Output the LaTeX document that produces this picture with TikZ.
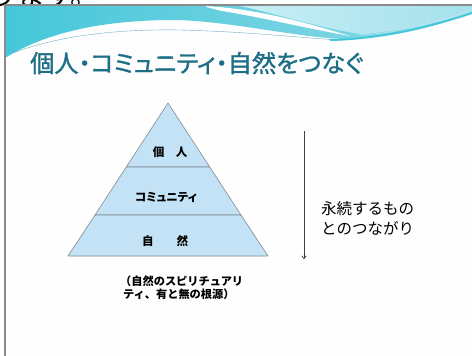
\documentclass[tikz,border=0pt]{standalone}
\usepackage{fontspec}
\newfontfamily\jp{Noto Sans CJK JP}
\newfontfamily\jpt[RawFeature=+palt,FakeBold=1.2]{Noto Sans CJK JP}
\newfontfamily\jpp[RawFeature=+palt]{Noto Sans CJK JP}
\usetikzlibrary{arrows.meta}
\definecolor{titleteal}{HTML}{1D6E86}
\definecolor{pyrfill}{HTML}{C4E2F6}
\definecolor{pyrline}{HTML}{7F8C95}
\definecolor{framegray}{HTML}{8A8A8A}
\definecolor{wavedark}{HTML}{45C7D9}
\definecolor{wavemid}{HTML}{8ED9E7}
\definecolor{wavelight}{HTML}{C8EEF5}
\definecolor{waveline}{HTML}{6AB0C2}
\tikzset{
  tier/.style={draw=pyrline, line width=0.6pt, fill=pyrfill, line join=round},
  tierlabel/.style={font=\jp\bfseries\fontsize{11.5}{12}\selectfont, inner sep=0pt},
  bodytext/.style={font=\jp\fontsize{15.5}{20}\selectfont, inner sep=0pt, align=left},
  captext/.style={font=\jp\bfseries\fontsize{11.2}{12.5}\selectfont, inner sep=0pt, align=left},
  arrowline/.style={draw=black!75, line width=0.7pt, -{To[length=3.5pt,width=5pt]}}
}
\begin{document}
\begin{tikzpicture}[x=1pt,y=-1pt]
\useasboundingbox (0,0) rectangle (472,356);
\fill[white] (0,0) rectangle (472,356);
% cut-off text at the very top
\node[font=\jp\fontsize{28}{28}\selectfont, anchor=base west, inner sep=0pt] (toptext) at (-11,5.5) {ります。};
% slide
\fill[white!99!gray] (5,5) rectangle (472,356);
% wave band
\shade[left color=wavedark, right color=wavemid]
  (5,6) -- (472,6) -- (472,13)
  .. controls (440,24) and (400,38) .. (345,39)
  .. controls (300,38) and (230,21) .. (175,20)
  .. controls (110,20) and (50,30) .. (5,58) -- cycle;
\shade[left color=wavelight, right color=wavemid!80!white]
  (240,6) -- (472,6) -- (472,13)
  .. controls (440,22) and (400,32) .. (360,34)
  .. controls (320,28) and (270,12) .. (240,6) -- cycle;
\fill[white]
  (205,6) .. controls (260,9) and (310,24) .. (350,36)
  .. controls (305,28) and (255,16) .. (222,11)
  .. controls (214,9) and (209,8) .. (205,6) -- cycle;
\draw[waveline, line width=0.4pt]
  (13,53) .. controls (60,35) and (120,29) .. (180,30)
  .. controls (260,32) and (320,40) .. (345,40);
\draw[wavedark, line width=2pt]
  (330,40) .. controls (380,39) and (430,27) .. (472,13);
\draw[white!70!wavedark, line width=0.4pt]
  (360,35) .. controls (400,33) and (440,22) .. (472,9);
% frame
\draw[framegray, line width=1.6pt] (5,356) -- (5,5) -- (472,5);
% title
\node[anchor=west, inner sep=0pt, text=titleteal, font=\jpt\fontsize{24.2}{24}\selectfont] (title) at (30,63) {個人・コミュニティ・自然をつなぐ};
% pyramid
\coordinate (apex) at (168,103);
\path[tier] (apex) -- (209.7,167) -- (126.3,167) -- cycle;
\path[tier] (126.3,167) -- (209.7,167) -- (241,215) -- (95,215) -- cycle;
\path[tier] (95,215) -- (241,215) -- (268,256) -- (68,256) -- cycle;
\node[tierlabel] (kojin) at (170,152) {個　人};
\node[tierlabel, font=\jpp\bfseries\fontsize{11.5}{12}\selectfont] (comm) at (166,197) {コミュニティ};
\node[tierlabel] (shizen) at (165,241) {自　　然};
\node[captext, anchor=north west] (cap) at (120,276) {（自然のスピリチュアリ\\\hspace*{3pt}ティ、有と無の根源）};
% arrow
\coordinate (atop) at (304,131);
\coordinate (abot) at (304,259);
\draw[arrowline] (atop) -- (abot);
\node[bodytext, anchor=north west] (eizoku) at (321,201) {永続するもの\\とのつながり};
\end{tikzpicture}
\end{document}
